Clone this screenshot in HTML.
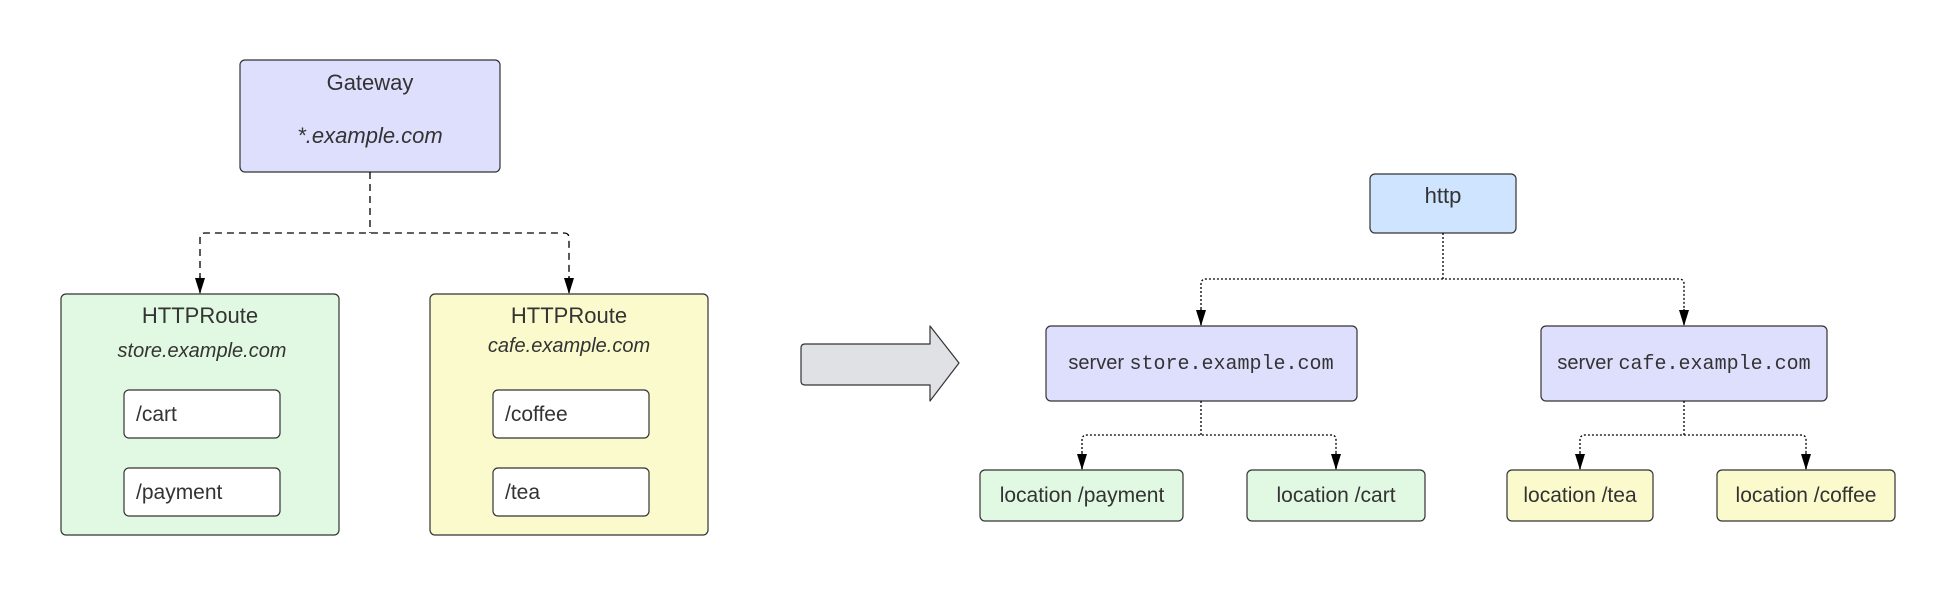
<!DOCTYPE html>
<html><head><meta charset="utf-8"><style>html,body{margin:0;padding:0;background:#fff}svg{display:block}</style></head>
<body>
<svg width="1945" height="595" viewBox="0 0 1945 595" xmlns="http://www.w3.org/2000/svg" font-family="Liberation Sans, sans-serif" fill="#333">
<defs>
<marker id="ah" markerWidth="16" markerHeight="10" refX="15" refY="5" orient="auto" markerUnits="userSpaceOnUse">
<path d="M0,0 L16,5 L0,10 z" fill="#000"/>
</marker>
</defs>
<g stroke="#333" stroke-width="1.2">
<rect x="240" y="60" width="260" height="112" rx="5" fill="#dedffd"/>
<rect x="61" y="294" width="278" height="241" rx="5" fill="#e1f9e2"/>
<rect x="430" y="294" width="278" height="241" rx="5" fill="#fbfacc"/>
<rect x="124" y="390" width="156" height="48" rx="5" fill="#fff"/>
<rect x="124" y="468" width="156" height="48" rx="5" fill="#fff"/>
<rect x="493" y="390" width="156" height="48" rx="5" fill="#fff"/>
<rect x="493" y="468" width="156" height="48" rx="5" fill="#fff"/>
<rect x="1370" y="174" width="146" height="59" rx="5" fill="#cfe4fe"/>
<rect x="1046" y="326" width="311" height="75" rx="5" fill="#dedffd"/>
<rect x="1541" y="326" width="286" height="75" rx="5" fill="#dedffd"/>
<rect x="980" y="470" width="203" height="51" rx="5" fill="#e1f9e2"/>
<rect x="1247" y="470" width="178" height="51" rx="5" fill="#e1f9e2"/>
<rect x="1507" y="470" width="146" height="51" rx="5" fill="#fbfacc"/>
<rect x="1717" y="470" width="178" height="51" rx="5" fill="#fbfacc"/>
</g>
<path d="M801,348 Q801,344 805,344 L930,344 L930,326 L959,363 L930,401 L930,385 L805,385 Q801,385 801,381 Z" fill="#dfe1e5" stroke="#333" stroke-width="1.2" stroke-linejoin="round"/>
<g fill="none" stroke="#000" stroke-width="1.3">
<path d="M370,172 V233 M200,292 V238 Q200,233 205,233 H564 Q569,233 569,238 V292" stroke-dasharray="7,5"/>
<path d="M200,276 V293" marker-end="url(#ah)"/>
<path d="M569,276 V293" marker-end="url(#ah)"/>
<g stroke-dasharray="2,2">
<path d="M1443,233 V279 M1201,325 V284 Q1201,279 1206,279 H1679 Q1684,279 1684,284 V325"/>
<path d="M1201,401 V435 M1082,469 V440 Q1082,435 1087,435 H1331 Q1336,435 1336,440 V469"/>
<path d="M1684,401 V435 M1580,469 V440 Q1580,435 1585,435 H1801 Q1806,435 1806,440 V469"/>
</g>
<path d="M1201,309 V325" marker-end="url(#ah)"/>
<path d="M1684,309 V325" marker-end="url(#ah)"/>
<path d="M1082,453 V469" marker-end="url(#ah)"/>
<path d="M1336,453 V469" marker-end="url(#ah)"/>
<path d="M1580,453 V469" marker-end="url(#ah)"/>
<path d="M1806,453 V469" marker-end="url(#ah)"/>
</g>
<g font-size="22" text-anchor="middle">
<text x="370" y="90">Gateway</text>
<text x="370" y="143" font-style="italic">*.example.com</text>
<text x="200" y="323">HTTPRoute</text>
<text x="569" y="323">HTTPRoute</text>
<text x="1443" y="203">http</text>
</g>
<g font-size="20" text-anchor="middle" font-style="italic">
<text x="202" y="357">store.example.com</text>
<text x="569" y="352">cafe.example.com</text>
</g>
<g font-size="21" text-anchor="middle">
<text x="1082" y="502">location /payment</text>
<text x="1336" y="502">location /cart</text>
<text x="1580" y="502">location /tea</text>
<text x="1806" y="502">location /coffee</text>
</g>
<g font-size="21" text-anchor="start">
<text x="136" y="421">/cart</text>
<text x="136" y="499">/payment</text>
<text x="505" y="421">/coffee</text>
<text x="505" y="499">/tea</text>
</g>
<g font-size="20" text-anchor="middle">
<text x="1201" y="369">server <tspan font-family="Liberation Mono, monospace">store.example.com</tspan></text>
<text x="1684" y="369">server <tspan font-family="Liberation Mono, monospace">cafe.example.com</tspan></text>
</g>
</svg>
</body></html>
